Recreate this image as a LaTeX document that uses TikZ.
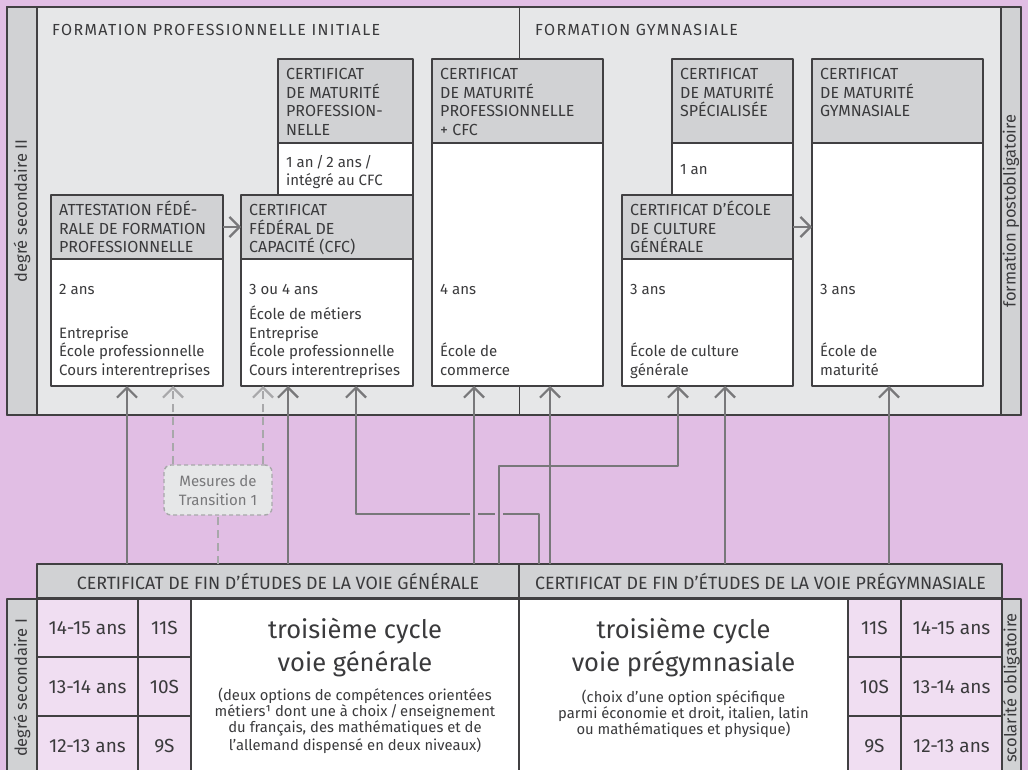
\documentclass[tikz,border=0pt]{standalone}
\usepackage{fontspec}
\setmainfont{Fira Sans}
\usetikzlibrary{arrows.meta}
\definecolor{lila}{RGB}{225,190,228}
\definecolor{rose}{RGB}{240,222,242}
\definecolor{panneau}{RGB}{230,231,232}
\definecolor{entete}{RGB}{209,210,212}
\definecolor{trait}{RGB}{65,64,66}
\definecolor{fleche}{RGB}{120,120,122}
\definecolor{pointille}{RGB}{168,168,170}
\definecolor{encre}{RGB}{58,58,60}
\tikzset{
  cadre/.style={draw=trait, line width=1.3pt, anchor=north west, inner sep=0pt, outer sep=0pt},
  tete/.style={cadre, fill=entete},
  corps/.style={cadre, fill=white},
  txt/.style={anchor=base west, inner sep=0pt, align=left, text=encre},
  majus/.style={txt, font=\fontsize{16}{18.7}\selectfont},
  rubrique/.style={txt, font=\fontsize{16}{19}\selectfont\addfontfeatures{LetterSpace=8.5}},
  cote/.style={rotate=90, text=encre, font=\fontsize{16.5}{19}\selectfont},
  fl/.style={->, draw=fleche, line width=2.2pt},
  tiret/.style={draw=pointille, line width=2.2pt, dash pattern=on 8pt off 5pt},
}
\begin{document}
\begin{tikzpicture}[x=1pt, y=-1pt, font=\fontsize{15}{18.5}\selectfont, line join=round,
    >={Straight Barb[length=10pt,width=20pt]}]
  \useasboundingbox (0,0) rectangle (1028,770);
  \fill[lila] (0,0) rectangle (1028,770);
  \clip (0,0) rectangle (1028,770);
  \path
  (127,0) coordinate (pa) (288,0) coordinate (pb) (474,0) coordinate (pd)
  (550,0) coordinate (pg) (725,0) coordinate (pi) (889,0) coordinate (pj)
  (173,0) coordinate (ta) (263,0) coordinate (tb)
  (356,514) coordinate (k1) (539,514) coordinate (k2)
  (499,466) coordinate (k3) (678,466) coordinate (k4)
  ;
  % degré secondaire II
  \draw[draw=trait, line width=1.3pt, fill=panneau] (7,7) rectangle (1021,415);
  \draw[draw=trait, line width=1.3pt, fill=entete] (7,7) rectangle (37,415);
  \draw[draw=trait, line width=1.3pt, fill=entete] (1001,7) rectangle (1021,415);
  \draw[trait, line width=1pt] (519,7) -- (519,415);
  \node[cote] (sec2) at (22,211) {degré secondaire II};
  \node[cote] (post) at (1011,211) {formation postobligatoire};
  \node[rubrique] (fpi) at (52,36) {FORMATION PROFESSIONNELLE INITIALE};
  \node[rubrique] (fgy) at (535,36) {FORMATION GYMNASIALE};

  \node[tete, minimum width=135, minimum height=84] (mpH) at (278,59) {};
  \node[corps, minimum width=135, minimum height=52] (mpB) at (278,143) {};
  \node[tete, minimum width=171, minimum height=84] (cmcH) at (432,59) {};
  \node[corps, minimum width=171, minimum height=243] (cmcB) at (432,143) {};
  \node[tete, minimum width=121, minimum height=84] (msH) at (672,59) {};
  \node[corps, minimum width=121, minimum height=52] (msB) at (672,143) {};
  \node[tete, minimum width=171, minimum height=84] (gymH) at (812,59) {};
  \node[corps, minimum width=171, minimum height=243] (gymB) at (812,143) {};
  \node[tete, minimum width=172, minimum height=64] (attH) at (51,195) {};
  \node[corps, minimum width=172, minimum height=127] (attB) at (51,259) {};
  \node[tete, minimum width=172, minimum height=64] (cfcH) at (241,195) {};
  \node[corps, minimum width=172, minimum height=127] (cfcB) at (241,259) {};
  \node[tete, minimum width=171, minimum height=64] (ecgH) at (622,195) {};
  \node[corps, minimum width=171, minimum height=127] (ecgB) at (622,259) {};

  % texts: base = last line
  \node[majus] (mpT) at (286,135.6) {CERTIFICAT\\DE MATURITÉ\\PROFESSION-\\NELLE};
  \node[txt] (mpD) at (286,186) {1 an\,/\,2 ans\,/\\intégré au CFC};
  \node[majus] (cmcT) at (440,135.6) {CERTIFICAT\\DE MATURITÉ\\PROFESSIONNELLE\\+ CFC};
  \node[txt] (cmcD) at (440,294) {4 ans};
  \node[txt] (cmcL) at (440,375) {École de\\commerce};
  \node[majus] (msT) at (680,116.9) {CERTIFICAT\\DE MATURITÉ\\SPÉCIALISÉE};
  \node[txt] (msD) at (680,175) {1 an};
  \node[majus] (gymT) at (820,116.9) {CERTIFICAT\\DE MATURITÉ\\GYMNASIALE};
  \node[txt] (gymD) at (820,294) {3 ans};
  \node[txt] (gymL) at (820,375) {École de\\maturité};
  \node[majus] (attT) at (59,252.9) {ATTESTATION FÉDÉ-\\RALE DE FORMATION\\PROFESSIONNELLE};
  \node[txt] (attD) at (59,294) {2 ans};
  \node[txt] (attL) at (59,375) {Entreprise\\École professionnelle\\Cours interentreprises};
  \node[majus] (cfcT) at (249,252.9) {CERTIFICAT\\FÉDÉRAL DE\\CAPACITÉ (CFC)};
  \node[txt] (cfcD) at (249,294) {3 ou 4 ans};
  \node[txt] (cfcL) at (249,375) {École de métiers\\Entreprise\\École professionnelle\\Cours interentreprises};
  \node[majus] (ecgT) at (630,252.9) {CERTIFICAT D’ÉCOLE\\DE CULTURE\\GÉNÉRALE};
  \node[txt] (ecgD) at (630,294) {3 ans};
  \node[txt] (ecgL) at (630,375) {École de culture\\générale};

  \draw[fl] (attH) -- (cfcH);
  \draw[fl] (ecgH.east) -- (ecgH.east -| gymB.west);

  % degré secondaire I
  \node[tete, minimum width=482, minimum height=34] (certG) at (37,564) {};
  \node[tete, minimum width=483, minimum height=34] (certP) at (519,564) {};
  \node[text=encre, font=\fontsize{17.8}{20}\selectfont] (certGT) at (certG)
    {CERTIFICAT DE FIN D’ÉTUDES DE LA VOIE GÉNÉRALE};
  \node[text=encre, font=\fontsize{17.8}{20}\selectfont] (certPT) at (certP)
    {CERTIFICAT DE FIN D’ÉTUDES DE LA VOIE PRÉGYMNASIALE};
  \draw[draw=trait, line width=1.3pt, fill=entete] (7,599) rectangle (37,780);
  \draw[draw=trait, line width=1.3pt, fill=entete] (1002,599) rectangle (1021,780);
  \node[cote] (sec1) at (22,688) {degré secondaire I};
  \node[cote] (scol) at (1011.5,688) {scolarité obligatoire};
  \foreach \ya/\yb/\yt/\age/\cl in {599/657/628/14-15 ans/11S,
      657/716/687/13-14 ans/10S, 716/780/746/12-13 ans/9S}{
    \draw[draw=trait, line width=1.3pt, fill=rose] (37,\ya) rectangle (138,\yb)
      (138,\ya) rectangle (191,\yb) (848,\ya) rectangle (901,\yb)
      (901,\ya) rectangle (1002,\yb);
    \node[text=encre, font=\fontsize{19}{22}\selectfont] (ageG\cl) at (87.5,\yt) {\age};
    \node[text=encre, font=\fontsize{19}{22}\selectfont] (anG\cl) at (164.5,\yt) {\cl};
    \node[text=encre, font=\fontsize{19}{22}\selectfont] (anP\cl) at (874.5,\yt) {\cl};
    \node[text=encre, font=\fontsize{19}{22}\selectfont] (ageP\cl) at (951.5,\yt) {\age};
  }
  \node[corps, minimum width=328, minimum height=181] (cycG) at (191,599) {};
  \node[corps, minimum width=329, minimum height=181] (cycP) at (519,599) {};
  \node[anchor=base, align=center, text=encre, font=\fontsize{25.5}{33}\selectfont]
    (titG) at (355,671) {troisième cycle\\voie générale};
  \node[anchor=base, align=center, text=encre, font=\fontsize{14.8}{16}\selectfont]
    (parG) at (355,750) {(deux options de compétences orientées\\métiers¹ dont une à choix\,/\,enseignement\\du français, des mathématiques et de\\l’allemand dispensé en deux niveaux)};
  \node[anchor=base, align=center, text=encre, font=\fontsize{25.5}{33}\selectfont]
    (titP) at (683.5,671) {troisième cycle\\voie prégymnasiale};
  \node[anchor=base, align=center, text=encre, font=\fontsize{14.8}{16}\selectfont]
    (parP) at (683.5,734) {(choix d’une option spécifique\\parmi économie et droit, italien, latin\\ou mathématiques et physique)};

  % mesures de transition
  \node[draw=pointille, fill=panneau, line width=1.4pt, dash pattern=on 4pt off 3pt,
    rounded corners=7pt, minimum width=108, minimum height=50, align=center,
    text=fleche, font=\fontsize{15}{19}\selectfont] (mes) at (218,490) {Mesures de\\Transition 1};
  \draw[tiret] (certG.north -| mes) -- (mes.south);
  \draw[tiret, ->] (mes.north -| ta) -- (attB.south -| ta);
  \draw[tiret, ->] (mes.north -| tb) -- (cfcB.south -| tb);

  % passerelles
  \draw[fl] (certP.north -| k2) -- (k2) -- (k1) -- (cfcB.south -| k1);
  \draw[lila, line width=8pt] (pd |- k1) ++(0,-4) -- ++(0,8) (k3 |- k1) ++(0,-4) -- ++(0,8);
  \draw[fl] (certG.north -| k3) -- (k3) -- (k4) -- (ecgB.south -| k4);
  \foreach \a/\b/\p in {certG/attB/pa, certG/cfcB/pb, certG/cmcB/pd,
      certP/cmcB/pg, certP/ecgB/pi, certP/gymB/pj}
    \draw[fl] (\a.north -| \p) -- (\b.south -| \p);
\end{tikzpicture}
\end{document}
